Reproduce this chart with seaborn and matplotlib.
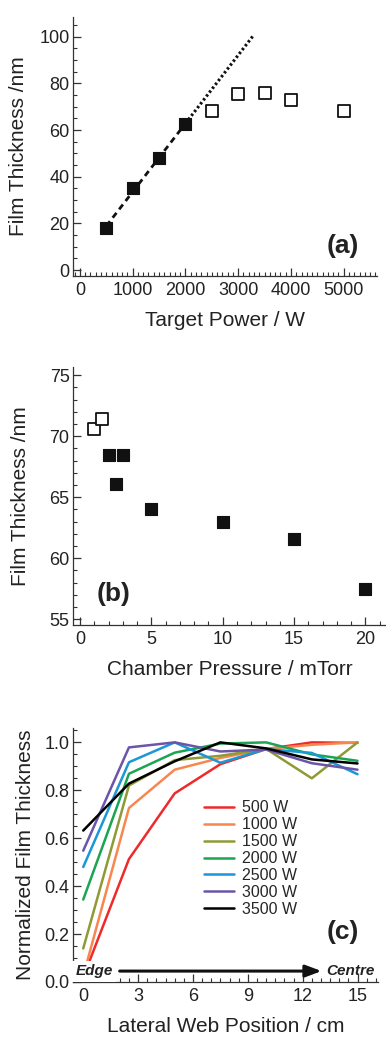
"""Film thickness vs target power, chamber pressure and web position."""

import matplotlib.pyplot as plt
import numpy as np
import pandas as pd
import seaborn as sns
from matplotlib.ticker import MultipleLocator

# (a) film thickness vs target power
power_fit = [500, 1000, 1500, 2000]
thick_fit = [18, 35, 48, 62.5]
power_open = [2500, 3000, 3500, 4000, 5000]
thick_open = [68, 75.5, 76, 73, 68]
fit_x_end = 3280

# (b) film thickness vs chamber pressure
press_open = [1, 1.5]
thick_p_open = [70.6, 71.4]
press_fill = [2, 2.5, 3, 5, 10, 15, 20]
thick_p_fill = [68.45, 66.05, 68.45, 64.0, 62.95, 61.55, 57.45]

# (c) normalised thickness across the web
position = [0, 2.5, 5, 7.5, 10, 12.5, 15]
labels_c = ["500 W", "1000 W", "1500 W", "2000 W", "2500 W", "3000 W", "3500 W"]
norm_500 = [0.02, 0.513, 0.787, 0.909, 0.972, 1.0, 0.998]
norm_1000 = [0.025, 0.726, 0.886, 0.935, 0.972, 0.99, 1.0]
norm_1500 = [0.14, 0.82, 0.926, 0.944, 0.973, 0.85, 1.0]
norm_2000 = [0.344, 0.869, 0.957, 0.995, 1.0, 0.95, 0.923]
norm_2500 = [0.48, 0.917, 1.0, 0.915, 0.972, 0.956, 0.867]
norm_3000 = [0.548, 0.979, 1.0, 0.962, 0.97, 0.913, 0.886]
norm_3500 = [0.632, 0.828, 0.921, 1.0, 0.975, 0.929, 0.912]
colors_c = ["#ee2a2a", "#f7874f", "#8f9a35", "#1aa552", "#1a97d8", "#6c55a8", "#000000"]

sns.set_theme(style="ticks")
plt.rcParams["font.family"] = ["Liberation Sans", "DejaVu Sans"]
plt.rcParams.update({
    "axes.edgecolor": "#333333",
    "axes.linewidth": 0.9,
    "xtick.direction": "in",
    "ytick.direction": "in",
    "xtick.major.size": 5.8,
    "ytick.major.size": 5.8,
    "xtick.minor.size": 2.8,
    "ytick.minor.size": 2.8,
    "xtick.major.width": 0.9,
    "ytick.major.width": 0.9,
    "xtick.minor.width": 0.8,
    "ytick.minor.width": 0.8,
    "xtick.color": "#333333",
    "ytick.color": "#333333",
    "xtick.labelsize": 13,
    "ytick.labelsize": 13,
    "xtick.labelcolor": "#222222",
    "ytick.labelcolor": "#222222",
    "xtick.major.pad": 4,
    "ytick.major.pad": 2.5,
    "axes.labelsize": 15,
    "axes.labelcolor": "#222222",
})

W, H = 386, 1037
fig = plt.figure(figsize=(W / 100, H / 100), dpi=100)


def add_axes(left, right, top, bottom):
    return fig.add_axes([left / W, 1 - bottom / H, (right - left) / W, (bottom - top) / H])


def style(ax):
    sns.despine(ax=ax)
    ax.xaxis.label.set_color("#222222")
    ax.yaxis.label.set_color("#222222")


# ---- panel (a)
ax = add_axes(73, 377, 17, 276)
m, b = np.polyfit(power_fit, thick_fit, 1)
xs = np.array([power_fit[0], power_fit[-1]])
ax.plot(xs, m * xs + b, color="#111111", lw=2, ls=(0, (2.2, 1.6)), zorder=1)
xs = np.array([power_fit[-1], fit_x_end])
ax.plot(xs, m * xs + b, color="#111111", lw=2.2, ls=(0, (0.8, 0.8)), zorder=1)
sns.scatterplot(x=power_fit, y=thick_fit, marker="s", s=80, color="#111111",
                edgecolor="#111111", linewidth=0.8, ax=ax, zorder=3)
sns.scatterplot(x=power_open, y=thick_open, marker="s", s=70, facecolor="white",
                edgecolor="#111111", linewidth=1.3, ax=ax, zorder=3)
ax.set_xlim(-130, 5630)
ax.set_ylim(-2.5, 108.5)
ax.xaxis.set_major_locator(MultipleLocator(1000))
ax.xaxis.set_minor_locator(MultipleLocator(100))
ax.yaxis.set_major_locator(MultipleLocator(20))
ax.yaxis.set_minor_locator(MultipleLocator(5))
ax.set_xlabel("Target Power / W", labelpad=9)
ax.set_ylabel("Film Thickness /nm", labelpad=8)
ax.text(0.888, 0.116, "(a)", transform=ax.transAxes, fontsize=19,
        fontweight="bold", ha="center", va="center", color="#222222")
style(ax)

# ---- panel (b)
ax = add_axes(73, 386, 367, 625)
sns.scatterplot(x=press_fill, y=thick_p_fill, marker="s", s=80, color="#111111",
                edgecolor="#111111", linewidth=0.8, ax=ax, zorder=3)
sns.scatterplot(x=press_open, y=thick_p_open, marker="s", s=70, facecolor="white",
                edgecolor="#111111", linewidth=1.3, ax=ax, zorder=3)
ax.set_xlim(-0.5, 21.45)
ax.set_ylim(54.53, 75.68)
ax.xaxis.set_major_locator(MultipleLocator(5))
ax.xaxis.set_minor_locator(MultipleLocator(1))
ax.yaxis.set_major_locator(MultipleLocator(5))
ax.yaxis.set_minor_locator(MultipleLocator(1))
ax.set_xlabel("Chamber Pressure / mTorr", labelpad=9)
ax.set_ylabel("Film Thickness /nm", labelpad=14)
ax.text(0.131, 0.122, "(b)", transform=ax.transAxes, fontsize=19,
        fontweight="bold", ha="center", va="center", color="#222222")
style(ax)

# ---- panel (c)
ax = add_axes(73, 378, 728, 982)
series = [norm_500, norm_1000, norm_1500, norm_2000, norm_2500, norm_3000, norm_3500]
df = pd.DataFrame({
    "pos": position * len(labels_c),
    "norm": np.concatenate(series),
    "power": np.repeat(labels_c, len(position)),
})
sns.lineplot(data=df, x="pos", y="norm", hue="power", hue_order=labels_c,
             palette=dict(zip(labels_c, colors_c)), lw=1.8, ax=ax, zorder=2)
ax.set_xlim(-0.56, 16.12)
ax.set_ylim(0, 1.06)
ax.xaxis.set_major_locator(MultipleLocator(3))
ax.xaxis.set_minor_locator(MultipleLocator(0.5))
ax.yaxis.set_major_locator(MultipleLocator(0.2))
ax.yaxis.set_minor_locator(MultipleLocator(0.05))
ax.yaxis.set_major_formatter(plt.FormatStrFormatter("%.1f"))
ax.set_xlabel("Lateral Web Position / cm", labelpad=9)
ax.set_ylabel("Normalized Film Thickness", labelpad=7)
ax.legend(loc="upper left", bbox_to_anchor=(0.43, 0.715), frameon=False,
          prop={"family": ["Liberation Sans", "DejaVu Sans"], "size": 11.5},
          handlelength=1.9, handletextpad=0.5, labelspacing=0.12,
          borderpad=0, borderaxespad=0)
ax.text(0.885, 0.196, "(c)", transform=ax.transAxes, fontsize=19,
        fontweight="bold", ha="center", va="center", color="#222222")
ax.text(0.008, 0.043, "Edge", transform=ax.transAxes, fontsize=11,
        fontweight="bold", style="italic", ha="left", va="center", color="#222222",
        bbox=dict(facecolor="white", edgecolor="none", pad=2.5), zorder=5)
ax.text(0.99, 0.043, "Centre", transform=ax.transAxes, fontsize=11,
        fontweight="bold", style="italic", ha="right", va="center", color="#222222",
        zorder=5)
ax.annotate("", xy=(0.815, 0.043), xytext=(0.153, 0.043), xycoords="axes fraction",
            arrowprops=dict(arrowstyle="-|>,head_length=0.8,head_width=0.3",
                            color="#111111", lw=2.2, shrinkA=0, shrinkB=0), zorder=5)
style(ax)

fig.savefig("out.png", dpi=100)
